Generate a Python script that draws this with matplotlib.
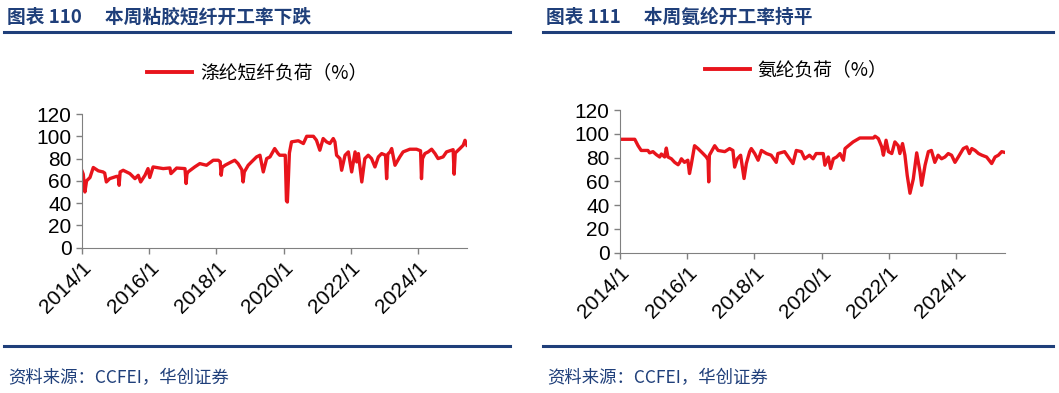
import matplotlib
matplotlib.use('Agg')
import matplotlib.pyplot as plt
from matplotlib.lines import Line2D
import pandas as pd

plt.rcParams['font.family'] = ['Liberation Sans', 'Noto Sans CJK SC']

# left panel: 涤纶短纤负荷 (%)
psf_dates = ['2014-01-01', '2014-01-15', '2014-02-02', '2014-02-20', '2014-03-29', '2014-05-04',
             '2014-06-28', '2014-08-18', '2014-09-05', '2014-09-23', '2014-10-30', '2015-01-11',
             '2015-01-30', '2015-02-09', '2015-02-20', '2015-03-25', '2015-06-06', '2015-07-31',
             '2015-09-05', '2015-10-01', '2015-11-17', '2015-12-20', '2016-01-08', '2016-02-13',
             '2016-06-02', '2016-08-14', '2016-08-25', '2016-10-26', '2017-01-25', '2017-02-06',
             '2017-02-15', '2017-02-27', '2017-05-11', '2017-07-05', '2017-09-16', '2017-11-28',
             '2018-01-22', '2018-02-12', '2018-02-22', '2018-03-05', '2018-04-05', '2018-06-13',
             '2018-07-20', '2018-08-25', '2018-10-05', '2018-10-19', '2018-11-01', '2018-12-13',
             '2019-01-18', '2019-03-14', '2019-04-20', '2019-05-26', '2019-07-02', '2019-08-07',
             '2019-09-27', '2019-11-03', '2019-11-21', '2019-12-27', '2020-01-20', '2020-02-02',
             '2020-02-12', '2020-02-22', '2020-03-05', '2020-03-28', '2020-06-10', '2020-08-04',
             '2020-09-09', '2020-11-21', '2020-12-24', '2021-01-30', '2021-03-07', '2021-04-13',
             '2021-05-19', '2021-06-25', '2021-07-13', '2021-07-31', '2021-09-06', '2021-09-24',
             '2021-10-31', '2021-12-06', '2022-01-11', '2022-02-17', '2022-03-07', '2022-03-25',
             '2022-05-01', '2022-06-03', '2022-07-10', '2022-08-15', '2022-09-21', '2022-10-28',
             '2022-12-03', '2023-01-14', '2023-01-26', '2023-02-08', '2023-03-04', '2023-03-22',
             '2023-04-27', '2023-06-18', '2023-07-24', '2023-10-05', '2023-12-17', '2024-01-30',
             '2024-02-09', '2024-02-20', '2024-03-17', '2024-04-22', '2024-05-29', '2024-07-05',
             '2024-08-07', '2024-10-01', '2024-11-07', '2025-01-18', '2025-01-29', '2025-02-10',
             '2025-04-02', '2025-05-08', '2025-05-27', '2025-06-17']
psf_load = [69, 66, 50, 60, 63, 72,
            69, 68, 67, 59, 62, 64,
            64, 56, 68, 69.5, 66.5, 62,
            65, 59, 65, 71, 63, 72.5,
            71, 71.6, 66.5, 71.5, 71, 57.6,
            66, 68, 72.5, 75.5, 74, 78.5,
            78.5, 77, 65, 72, 74, 77,
            78.5, 75.5, 70, 59, 68, 74,
            77, 81.5, 83, 68, 80, 81.5,
            89, 84.5, 83, 83, 83, 42,
            41, 60, 85, 95, 96, 93.5,
            100, 100, 96.5, 87.5, 98, 95,
            93.5, 98, 95, 83, 80, 69.5,
            83, 86, 68, 86, 77, 84.5,
            59, 80, 83, 80, 72.5, 81.5,
            84.5, 83, 62, 84, 86, 89,
            74, 81.5, 86, 88.4, 88.4, 87,
            62, 80, 84.5, 86, 88.4, 84.5,
            80, 81.5, 86, 88, 66, 85,
            89, 92, 96.4, 92]

# right panel: 氨纶负荷 (%)
spx_dates = ['2014-01-01', '2014-06-10', '2014-07-16', '2014-08-19', '2014-10-31', '2014-11-18',
             '2014-12-25', '2015-01-30', '2015-03-08', '2015-03-26', '2015-05-01', '2015-05-19',
             '2015-06-06', '2015-07-13', '2015-08-18', '2015-09-24', '2015-10-12', '2015-10-30',
             '2015-12-02', '2016-01-08', '2016-01-26', '2016-02-13', '2016-03-21', '2016-04-27',
             '2016-06-21', '2016-07-27', '2016-08-15', '2016-08-22', '2016-08-29', '2016-09-20',
             '2016-10-26', '2016-12-02', '2017-02-13', '2017-04-06', '2017-05-12', '2017-05-31',
             '2017-06-29', '2017-08-04', '2017-09-10', '2017-10-05', '2017-11-10', '2017-11-28',
             '2018-01-04', '2018-02-10', '2018-03-18', '2018-05-12', '2018-07-02', '2018-08-26',
             '2018-09-13', '2018-11-25', '2019-01-18', '2019-02-24', '2019-04-01', '2019-05-26',
             '2019-07-01', '2019-08-22', '2019-10-01', '2019-11-03', '2020-01-19', '2020-02-06',
             '2020-03-14', '2020-04-08', '2020-05-08', '2020-06-13', '2020-07-19', '2020-08-25',
             '2020-09-12', '2020-10-19', '2020-12-09', '2021-02-20', '2021-07-17', '2021-08-04',
             '2021-09-09', '2021-10-16', '2021-11-03', '2021-12-02', '2021-12-28', '2022-02-02',
             '2022-03-08', '2022-04-13', '2022-05-01', '2022-05-30', '2022-06-25', '2022-07-20',
             '2022-08-19', '2022-09-24', '2022-10-31', '2022-12-06', '2022-12-24', '2023-01-30',
             '2023-03-07', '2023-04-09', '2023-05-16', '2023-06-21', '2023-07-28', '2023-09-03',
             '2023-10-09', '2023-11-14', '2023-12-21', '2024-01-26', '2024-03-21', '2024-04-27',
             '2024-05-26', '2024-06-21', '2024-07-27', '2024-09-02', '2024-10-09', '2024-11-29',
             '2025-01-23', '2025-03-01', '2025-04-06', '2025-05-12', '2025-06-17']
spx_load = [95.4, 95.4, 90, 86, 86, 84,
            85, 82.5, 80.5, 83, 80.5, 88,
            80.5, 79, 76, 74, 76, 79,
            76, 77.8, 66.6, 73.6, 90, 87.6,
            83.4, 80.5, 78, 59.6, 82, 85,
            90, 86, 85, 87.6, 86, 72,
            79, 82, 62.4, 75, 85, 87.6,
            83.4, 77.8, 86, 83.4, 82, 76,
            83.4, 85, 79, 75, 86, 85,
            79, 82, 79, 83.4, 83.4, 73.6,
            80.5, 70.8, 79, 80.5, 83.4, 77.8,
            87.6, 90, 93.2, 96.5, 96.5, 98,
            96, 89, 82, 94.6, 85, 83.4,
            93.2, 90, 83.4, 91.8, 82, 65,
            50, 62, 84, 68, 56.7, 73.6,
            85, 86, 76, 82, 79, 80.5,
            83.4, 82, 76, 80.5, 87.6, 89,
            83.4, 87.6, 86, 83.4, 82, 80.5,
            75, 80.5, 82, 85, 84.3]

year_ticks = ['2014-01-01', '2016-01-01', '2018-01-01', '2020-01-01', '2022-01-01', '2024-01-01']
year_labels = ['2014/1', '2016/1', '2018/1', '2020/1', '2022/1', '2024/1']

titles = ['图表 110\u3000 本周粘胶短纤开工率下跌', '图表 111\u3000 本周氨纶开工率持平']
legends = ['涤纶短纤负荷（%）', '氨纶负荷（%）']
source = '资料来源：CCFEI，华创证券'

navy = '#1F3F7A'
red = '#E8141C'
cjk = ['Noto Sans CJK SC', 'DejaVu Sans']

fig = plt.figure(figsize=(10.59, 3.93), dpi=100)

ax_pos = [[0.0774, 0.3697, 0.3636, 0.3402], [0.5855, 0.357, 0.3636, 0.363]]
leg_pos = [(0.243, 0.814), (0.752, 0.822)]
title_x = [0.007, 0.516]
rule_x = [(0.004, 0.482), (0.513, 0.994)]
series = [(psf_dates, psf_load), (spx_dates, spx_load)]

for i in range(2):
    d, v = series[i]
    ax = fig.add_axes(ax_pos[i])
    ax.plot(pd.to_datetime(d), v, color=red, lw=2.4, solid_joinstyle='round')
    ax.set_xlim(pd.Timestamp('2014-01-01'), pd.Timestamp('2025-06-18'))
    ax.set_ylim(0, 120)
    ax.set_yticks(range(0, 121, 20))
    ax.set_xticks(pd.to_datetime(year_ticks))
    ax.set_xticklabels(year_labels, rotation=45, ha='right', rotation_mode='anchor')
    ax.tick_params(axis='both', labelsize=15, colors='#808080', labelcolor='black',
                   length=4, width=1, direction='out')
    for s in ['top', 'right']:
        ax.spines[s].set_visible(False)
    for s in ['left', 'bottom']:
        ax.spines[s].set_color('#808080')

    h = Line2D([], [], color=red, lw=2.8)
    fig.legend([h], [legends[i]], loc='center', bbox_to_anchor=leg_pos[i],
               frameon=False, handlelength=2.4, handletextpad=0.4,
               prop={'family': cjk, 'size': 13.5})

    fig.text(title_x[i], 0.955, titles[i], family=cjk, fontsize=13.5, fontweight='bold',
             color=navy, va='center', ha='left')
    fig.add_artist(Line2D(rule_x[i], [0.918, 0.918], color=navy, lw=2.2))
    fig.add_artist(Line2D(rule_x[i], [0.120, 0.120], color=navy, lw=2.2))
    fig.text(title_x[i] + 0.001, 0.038, source, family=cjk, fontsize=12.5, style='italic',
             color=navy, va='center', ha='left')

fig.savefig('out.png', dpi=100)
